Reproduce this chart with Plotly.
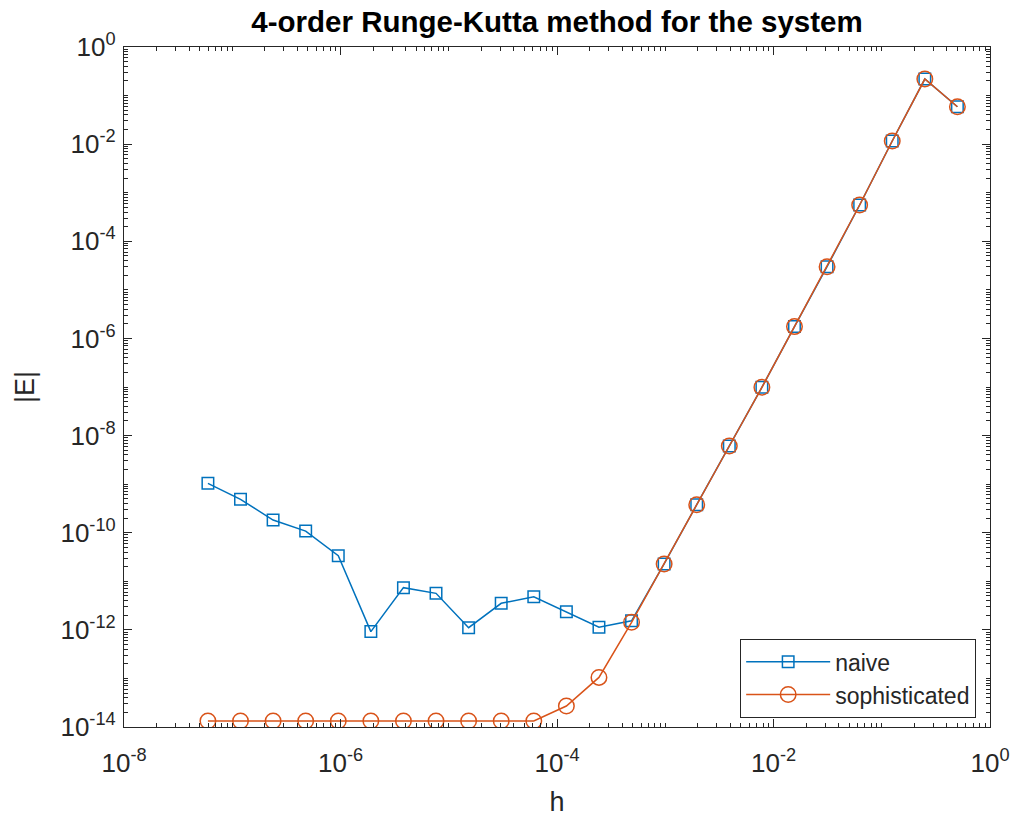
import plotly.graph_objects as go

# ---- data ----
h_values = [5.9605e-08, 1.1921e-07, 2.3842e-07, 4.7684e-07, 9.5367e-07, 1.9073e-06,
            3.8147e-06, 7.6294e-06, 1.5259e-05, 3.0518e-05, 6.1035e-05, 1.2207e-04,
            2.4414e-04, 4.8828e-04, 9.7656e-04, 1.9531e-03, 3.9063e-03, 7.8125e-03,
            1.5625e-02, 3.1250e-02, 6.2500e-02, 1.2500e-01, 2.5000e-01, 5.0000e-01]

err_naive = [1.04e-09, 4.87e-10, 1.82e-10, 1.08e-10, 3.36e-11, 9.2e-13,
             7.4e-12, 5.65e-12, 1.11e-12, 3.52e-12, 4.81e-12, 2.36e-12,
             1.13e-12, 1.54e-12, 2.27e-11, 3.77e-10, 6.1e-09, 9.85e-08,
             1.75e-06, 3.0e-05, 5.58e-04, 1.16e-02, 0.219, 0.059]

err_soph = [1.33e-14, 1.33e-14, 1.33e-14, 1.33e-14, 1.33e-14, 1.33e-14,
            1.33e-14, 1.33e-14, 1.33e-14, 1.33e-14, 1.33e-14, 2.7e-14,
            1.05e-13, 1.43e-12, 2.27e-11, 3.77e-10, 6.1e-09, 9.85e-08,
            1.75e-06, 3.0e-05, 5.58e-04, 1.16e-02, 0.219, 0.059]

series_names = ["naive", "sophisticated"]

x_tick_vals = [1e-8, 1e-6, 1e-4, 1e-2, 1e0]
x_tick_text = ["10<sup>-8</sup>", "10<sup>-6</sup>", "10<sup>-4</sup>", "10<sup>-2</sup>", "10<sup>0</sup>"]
y_tick_vals = [1e-14, 1e-12, 1e-10, 1e-8, 1e-6, 1e-4, 1e-2, 1e0]
y_tick_text = ["10<sup>-14</sup>", "10<sup>-12</sup>", "10<sup>-10</sup>", "10<sup>-8</sup>",
               "10<sup>-6</sup>", "10<sup>-4</sup>", "10<sup>-2</sup>", "10<sup>0</sup>"]

title_text = "<b>4-order Runge-Kutta method for the system</b>"
x_label = "h"
y_label = "|E|"

# ---- styling ----
BLUE = "#0072BD"
ORANGE = "#D95319"
AX = "#262626"
FONT = "Liberation Sans, Arial, Helvetica, sans-serif"
TICK_FONT = dict(family=FONT, size=26, color=AX)

fig = go.Figure()
fig.add_trace(go.Scatter(
    x=h_values, y=err_naive, name=series_names[0], mode="lines+markers",
    line=dict(color=BLUE, width=1.5),
    marker=dict(symbol="square-open", size=11.5, color=BLUE, line=dict(width=1.5, color=BLUE)),
))
fig.add_trace(go.Scatter(
    x=h_values, y=err_soph, name=series_names[1], mode="lines+markers",
    line=dict(color=ORANGE, width=1.5),
    marker=dict(symbol="circle-open", size=15.5, color=ORANGE, line=dict(width=1.5, color=ORANGE)),
))

axis_common = dict(
    type="log", showgrid=False, zeroline=False, automargin=False,
    showline=True, linecolor=AX, linewidth=1.3, mirror="allticks",
    ticks="inside", ticklen=8, tickwidth=1.3, tickcolor=AX,
    tickfont=TICK_FONT,
    minor=dict(ticks="inside", ticklen=4, tickwidth=1, tickcolor=AX, dtick="D1", showgrid=False),
    title_font=dict(family=FONT, size=27, color=AX),
)

fig.update_layout(
    xaxis=dict(**axis_common, range=[-8, 0],
               tickmode="array", tickvals=x_tick_vals, ticktext=x_tick_text,
               ticklabelstandoff=13,
               title=dict(text=x_label, standoff=14)),
    yaxis=dict(**axis_common, range=[-14, 0],
               tickmode="array", tickvals=y_tick_vals, ticktext=y_tick_text,
               ticklabelstandoff=2,
               title=dict(text=y_label, standoff=17)),
)

fig.update_layout(
    width=1012, height=821, autosize=False,
    margin=dict(l=124, r=22, t=47, b=94, autoexpand=False),
    paper_bgcolor="white", plot_bgcolor="white",
    font=dict(family=FONT, color=AX),
    title=dict(text=title_text, x=0.5504, xanchor="center", xref="container",
               y=1 - 21.7 / 821, yanchor="middle", yref="container", automargin=False,
               font=dict(family=FONT, size=29.5, color="black")),
    legend=dict(x=0.9838, y=0.0132, xanchor="right", yanchor="bottom",
                bgcolor="white", bordercolor=AX, borderwidth=1.2,
                font=dict(family=FONT, size=23, color=AX),
                itemwidth=84, tracegroupgap=0),
    showlegend=True,
)

fig.write_html("out.html")
